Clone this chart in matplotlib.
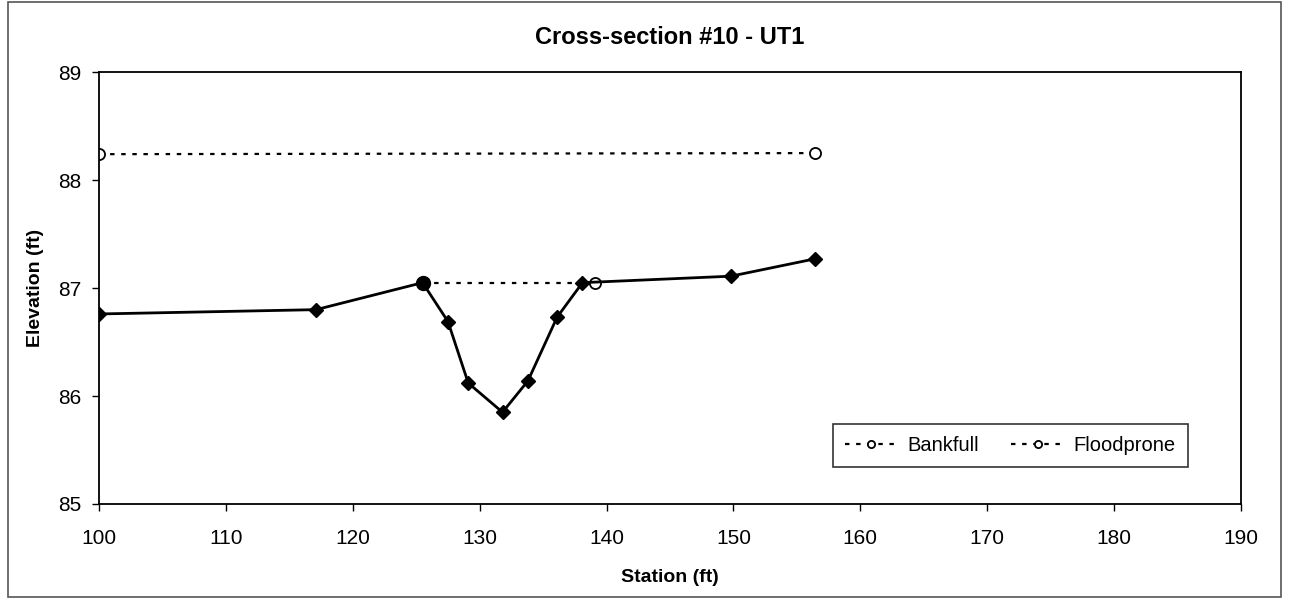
import matplotlib
matplotlib.use("Agg")
import matplotlib.pyplot as plt
from matplotlib.patches import Rectangle

plt.rcParams['font.family'] = ['Liberation Sans', 'DejaVu Sans']

# Surveyed cross-section (station, elevation)
station = [100.0, 117.1, 125.5, 127.5, 129.1, 131.8, 133.8, 136.1, 138.1, 149.8, 156.4]
elevation = [86.76, 86.80, 87.05, 86.69, 86.12, 85.85, 86.14, 86.73, 87.05, 87.11, 87.27]

# Bankfull and floodprone water surface lines
bankfull_station = [125.5, 139.1]
bankfull_elev = [87.05, 87.05]
floodprone_station = [100.0, 156.4]
floodprone_elev = [88.24, 88.25]

x_ticks = [100, 110, 120, 130, 140, 150, 160, 170, 180, 190]
y_ticks = [85, 86, 87, 88, 89]

fig = plt.figure(figsize=(12.89, 6.01), dpi=100)
ax = fig.add_axes([0.0768, 0.1614, 0.886, 0.7186])

bf, = ax.plot(bankfull_station, bankfull_elev, linestyle=(0, (2, 3)), color='black',
              linewidth=1.6, marker='o', markersize=8, markerfacecolor='white',
              markeredgecolor='black', markeredgewidth=1.3, label='Bankfull', zorder=2)
fp, = ax.plot(floodprone_station, floodprone_elev, linestyle=(0, (2, 3)), color='black',
              linewidth=1.6, marker='o', markersize=8, markerfacecolor='white',
              markeredgecolor='black', markeredgewidth=1.3, label='Floodprone', zorder=2)
ax.plot(station, elevation, color='black', linewidth=2, marker='D', markersize=7,
        markerfacecolor='black', markeredgecolor='black', zorder=3)
# left bankfull point drawn filled where it meets the ground line
ax.plot(bankfull_station[:1], bankfull_elev[:1], linestyle='none', marker='o',
        markersize=10, color='black', zorder=4)

ax.set_xlim(100, 190)
ax.set_ylim(85, 89)
ax.set_xticks(x_ticks)
ax.set_yticks(y_ticks)
ax.tick_params(axis='both', direction='out', length=5, width=1, labelsize=15)
ax.tick_params(axis='x', pad=13)
ax.tick_params(axis='y', pad=8)
for s in ax.spines.values():
    s.set_color('black')
    s.set_linewidth(1.3)

ax.set_title('Cross-section #10 - UT1', fontsize=17, fontweight='bold', pad=20)
ax.set_xlabel('Station (ft)', fontsize=14, fontweight='bold', labelpad=15)
ax.set_ylabel('Elevation (ft)', fontsize=14, fontweight='bold', labelpad=10)

leg = ax.legend(handles=[bf, fp], loc='lower right', bbox_to_anchor=(0.9536, 0.0856),
                borderaxespad=0, ncol=2, fontsize=14.5, frameon=True, fancybox=False,
                edgecolor='black', handlelength=2.6, columnspacing=1.6, borderpad=0.6,
                handletextpad=0.5, markerscale=0.65)
leg.get_frame().set_linewidth(1.2)

fig.patches.append(Rectangle((0.006, 0.006), 0.988, 0.99, transform=fig.transFigure,
                             fill=False, edgecolor='#555555', linewidth=1.2))

fig.savefig('out.png', dpi=100, facecolor='white')
